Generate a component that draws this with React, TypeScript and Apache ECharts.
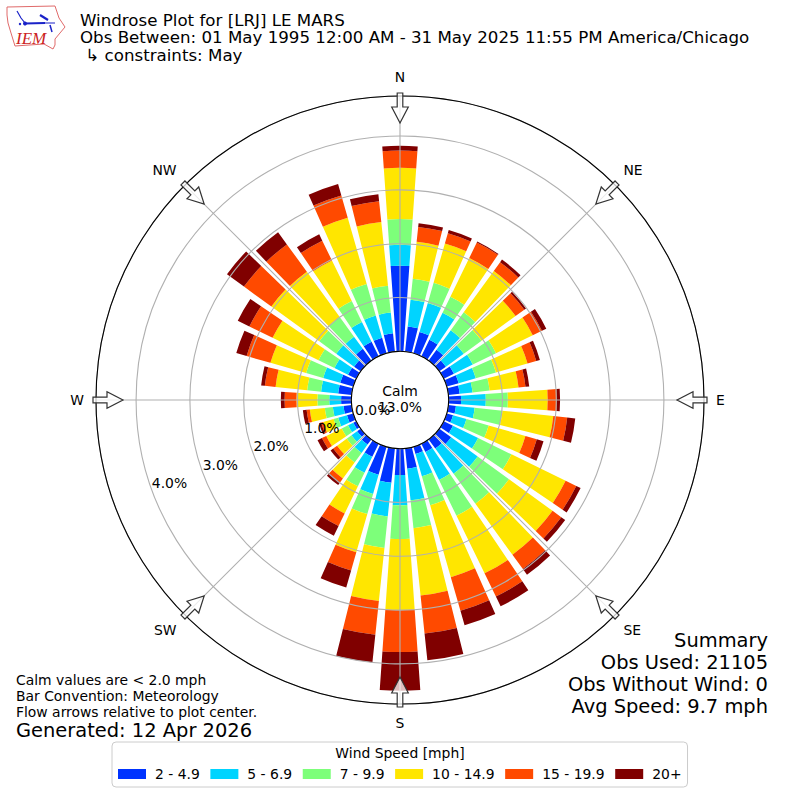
import React, { useEffect, useRef } from "react";
import * as echarts from "echarts";

const directions = ["360","10","20","30","40","50","60","70","80","90","100","110","120","130","140","150","160","170","180","190","200","210","220","230","240","250","260","270","280","290","300","310","320","330","340","350"];
const speedBins = ["2 - 4.9", "5 - 6.9", "7 - 9.9", "10 - 14.9", "15 - 19.9", "20+"];
const binColors = ["#0033ff", "#00d4ff", "#7dff7a", "#ffe600", "#ff4a00", "#800000"];
const bin1 = [1.59,.47,.41,.34,.25,.15,.21,.23,.21,.23,.14,.12,.19,.27,.21,.17,.14,.38,.49,.64,.54,.27,.12,.08,.06,.12,.15,.19,.25,.25,.17,.15,.27,.30,.30,.34];
const bin2 = [.39,.50,.56,.56,.45,.41,.39,.33,.24,.46,.35,.26,.52,.61,.58,.58,.43,.59,.56,.63,.37,.33,.19,.13,.11,.17,.20,.22,.32,.33,.28,.41,.28,.41,.43,.39];
const bin3 = [.48,.39,.39,.33,.41,.41,.48,.39,.32,.41,.52,.43,.69,.72,.69,.74,.56,.52,.63,.59,.39,.28,.22,.11,.13,.09,.15,.22,.26,.33,.33,.39,.45,.43,.61,.50];
const bin4 = [.95,.69,.76,.80,.95,.78,.76,.61,.54,.74,.95,.71,1.12,1.00,1.17,1.19,1.39,1.26,1.32,.99,.74,.56,.37,.22,.32,.20,.28,.39,.59,.69,.95,1.10,1.04,.84,1.28,1.19];
const bin5 = [.32,.28,.20,.32,.20,.20,.19,.17,.13,.17,.26,.22,.22,.20,.33,.48,.65,.71,.78,.63,.35,.26,.09,.09,.09,.04,.06,.22,.20,.46,.48,.63,.63,.41,.43,.39];
const bin6 = [.09,.07,.06,.02,.06,.04,.09,.07,.07,.06,.15,.13,.09,.09,.13,.20,.28,.50,.72,.52,.33,.20,.06,.06,.09,.04,.07,.07,.07,.20,.24,.39,.28,.13,.22,.13];
const binValues = [bin1, bin2, bin3, bin4, bin5, bin6];
const compass = ["N", "NE", "E", "SE", "S", "SW", "W", "NW"];
const titleLines = [
  "Windrose Plot for [LRJ] LE MARS",
  "Obs Between: 01 May 1995 12:00 AM - 31 May 2025 11:55 PM America/Chicago",
  " \u21b3 constraints: May",
];
const summaryLines = ["Summary", "Obs Used: 21105", "Obs Without Wind: 0", "Avg Speed: 9.7 mph"];
const noteLines = ["Calm values are < 2.0 mph", "Bar Convention: Meteorology", "Flow arrows relative to plot center."];
const generated = "Generated: 12 Apr 2026";
const calmLines = ["Calm", "13.0%"];

const FONT = "DejaVu Sans";
const CX = 400;
const CY = 400;
const R0 = 48.7;
const R1 = 304;
const RMAX = 4.745;

function text(x: number, y: number, t: string, size: number, align = "left", extra: any = {}) {
  return {
    type: "text", x, y, z: 20, silent: true,
    style: { text: t, fontSize: size, fontFamily: FONT, fill: "#000", align, verticalAlign: "middle", ...extra },
  };
}

function arrow(angleDeg: number) {
  return {
    type: "group", x: CX, y: CY, rotation: (-angleDeg * Math.PI) / 180, z: 15,
    children: [{
      type: "polygon", z: 15, silent: true,
      shape: { points: [[-2.8, -307], [2.8, -307], [2.8, -293], [8.3, -293], [0, -277], [-8.3, -293], [-2.8, -293]] },
      style: { fill: "rgba(255,255,255,0.75)", stroke: "#333", lineWidth: 1.2 },
    }],
  };
}

function logo() {
  const red = "#e06a6a";
  const blue = "#1a22c8";
  const outline = [[7, 7],[55, 6],[57, 12],[59, 18],[65, 27],[60, 33],[55, 39],[55, 45],[53, 49],[44, 44],[15, 46],[11, 33],[8, 23],[7, 15]];
  const line = (pts: number[][], w: number) => ({ type: "polyline", z: 18, silent: true, shape: { points: pts }, style: { stroke: blue, lineWidth: w, fill: "none" } });
  return [
    { type: "polygon", z: 18, silent: true, shape: { points: outline }, style: { fill: "#fff", stroke: red, lineWidth: 1 } },
    line([[25, 23.5], [45, 23]], 2),
    line([[45, 23], [55, 23]], 1),
    line([[17, 11], [21, 18], [25, 23]], 1.2),
    line([[40, 15], [48, 20]], 2.2),
    line([[50, 25], [52, 32]], 1.5),
    { type: "circle", z: 18, silent: true, shape: { cx: 25, cy: 23.5, r: 2 }, style: { fill: blue } },
    { type: "circle", z: 18, silent: true, shape: { cx: 20, cy: 24, r: 1.2 }, style: { fill: blue } },
    text(16, 38, "IEM", 17, "left", { fontFamily: "Liberation Serif", fontStyle: "italic", fill: "#cc2222" }),
  ];
}

export default function App() {
  const ref = useRef<HTMLDivElement>(null);
  useEffect(() => {
    document.body.style.margin = "0";
    const chart = echarts.init(ref.current!, null, { renderer: "svg" });
    const center = [CX, CY];
    chart.setOption({
      animation: false,
      backgroundColor: "#fff",
      textStyle: { fontFamily: FONT },
      polar: [
        { center, radius: [R0, R1] },
        { center, radius: [R0, R1] },
        { center, radius: [29, 245] },
      ],
      angleAxis: [
        { polarIndex: 0, type: "category", data: directions, startAngle: 95, clockwise: true, boundaryGap: true, show: false },
        {
          polarIndex: 1, type: "value", min: 0, max: 360, interval: 45, startAngle: 90, clockwise: true, z: 5,
          axisLine: { show: true, lineStyle: { color: "#000", width: 1.1 } },
          axisTick: { show: false },
          splitLine: { show: true, lineStyle: { color: "#b0b0b0", width: 1.1 } },
          axisLabel: {
            show: true, margin: 12, fontSize: 13.9, color: "#000", fontFamily: FONT, align: "center", verticalAlign: "middle",
            formatter: (v: number) => compass[Math.round(v / 45) % 8],
          },
        },
        { polarIndex: 2, type: "value", min: 0, max: 360, startAngle: 199.8, show: false },
      ],
      radiusAxis: [
        { polarIndex: 0, type: "value", min: 0, max: RMAX, show: false },
        {
          polarIndex: 1, type: "value", min: 0, max: RMAX, interval: 1, z: 5,
          axisLine: { show: false }, axisTick: { show: false }, axisLabel: { show: false },
          splitLine: { show: true, lineStyle: { color: "#b0b0b0", width: 1.1, type: "solid" } },
        },
        {
          polarIndex: 2, type: "value", min: 0, max: 4, interval: 1, z: 16,
          axisLine: { show: false }, axisTick: { show: false }, splitLine: { show: false },
          axisLabel: {
            show: true, margin: 0, fontSize: 13.9, color: "#000", fontFamily: FONT, align: "center", verticalAlign: "middle",
            formatter: (v: number) => `${v.toFixed(1)}%`,
          },
        },
      ],
      legend: {
        show: true, selectedMode: false, left: 112, top: 742,
        padding: [25, 6, 6, 6], itemWidth: 28, itemHeight: 10, itemGap: 10.6,
        icon: "rect", orient: "horizontal",
        borderColor: "#cccccc", borderWidth: 1, borderRadius: 4,
        backgroundColor: "#fff",
        data: speedBins,
        textStyle: { fontSize: 13.9, fontFamily: FONT, color: "#000", padding: [0, 0, 0, 4] },
      },
      series: speedBins.map((name, i) => ({
        name, type: "bar", coordinateSystem: "polar", polarIndex: 0, stack: "wind",
        barCategoryGap: "20%", data: binValues[i], itemStyle: { color: binColors[i] }, silent: true, z: 2,
      })),
      graphic: [
        ...logo(),
        ...titleLines.map((t, i) => text(80, 20 + i * 17.5, t, 16.67)),
        ...compass.map((_, i) => arrow(i * 45)),
        ...calmLines.map((t, i) => text(CX, 391 + i * 16, t, 13.9, "center")),
        ...summaryLines.map((t, i) => text(768, 640 + i * 22, t, 19.44, "right")),
        ...noteLines.map((t, i) => text(16, 680 + i * 16, t, 13.9)),
        text(16, 730, generated, 19.44),
        text(400, 753, "Wind Speed [mph]", 13.9, "center"),
      ],
    });
    return () => chart.dispose();
  }, []);
  return <div ref={ref} style={{ width: 800, height: 800 }} />;
}
